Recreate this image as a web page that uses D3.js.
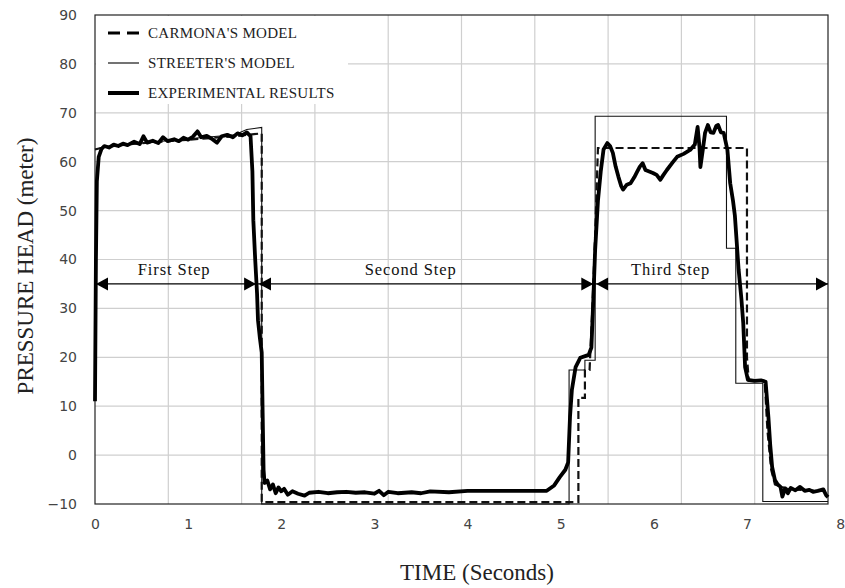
<!DOCTYPE html>
<html><head><meta charset="utf-8">
<script src="https://cdn.jsdelivr.net/npm/d3@7"></script>
<style>body{margin:0;background:#fff}svg{display:block}</style>
</head><body>
<svg id="c" width="845" height="588"></svg>
<script>
// ---------- data ----------
const xTickLabels = [0,1,2,3,4,5,6,7,8];
const yTickLabels = [-10,0,10,20,30,40,50,60,70,80,90];
const timeMax = 7.87;
const seriesNames = ["CARMONA'S MODEL","STREETER'S MODEL","EXPERIMENTAL RESULTS"];

const carmona = [[0,62.5],[0.1,63.0],[0.5,63.8],[1.0,64.5],[1.5,65.2],[1.79,65.8],[1.79,-9.6],[5.19,-9.6],[5.19,11.7],[5.26,11.7],[5.26,17.4],[5.31,17.4],[5.34,30],[5.37,45],[5.40,62.8],[7.0,62.8],[7.0,20],[7.02,15.2],[7.19,15.2],[7.22,5],[7.26,-3],[7.30,-6],[7.45,-7],[7.87,-7.4]];

const streeter = [[0,62.5],[0.1,63.0],[0.5,63.8],[1.0,64.7],[1.5,65.5],[1.63,66.6],[1.79,67.0],[1.79,-10],[5.09,-10],[5.09,17.4],[5.26,17.4],[5.26,19.4],[5.37,19.4],[5.37,69.3],[6.78,69.3],[6.78,42.3],[6.88,42.3],[6.88,14.7],[7.17,14.7],[7.17,-9.5],[7.87,-9.5]];

const experimental = [[0,11],[0.01,40],[0.02,56],[0.04,61],[0.07,62.6],[0.1,63.2],[0.15,62.9],[0.2,63.5],[0.25,63.2],[0.3,63.7],[0.35,63.4],[0.42,64.1],[0.48,63.6],[0.52,65.2],[0.56,63.9],[0.62,64.3],[0.68,63.8],[0.73,65.0],[0.78,64.2],[0.85,64.6],[0.9,64.2],[0.95,64.9],[1.0,64.5],[1.05,65.1],[1.1,66.2],[1.14,65.0],[1.2,65.3],[1.26,64.6],[1.31,63.9],[1.36,65.2],[1.42,65.5],[1.48,65.0],[1.53,65.8],[1.58,65.4],[1.63,66.0],[1.67,65.2],[1.69,58],[1.70,48],[1.72,40],[1.74,33],[1.75,27.6],[1.77,24],[1.79,21],[1.80,8.6],[1.81,-3],[1.82,-5.7],
[1.85,-5.2],[1.88,-7.0],[1.91,-6.0],[1.94,-7.8],[1.97,-6.6],[2.0,-7.4],[2.03,-6.9],[2.07,-8.1],[2.12,-7.4],[2.18,-7.9],[2.25,-8.3],[2.3,-7.7],[2.4,-7.5],[2.5,-7.8],[2.6,-7.6],[2.7,-7.5],[2.8,-7.7],[2.9,-7.6],[3.0,-7.9],[3.05,-7.3],[3.1,-8.2],[3.15,-7.5],[3.25,-7.8],[3.4,-7.6],[3.5,-7.8],[3.6,-7.4],[3.8,-7.6],[4.0,-7.3],[4.3,-7.3],[4.6,-7.3],[4.85,-7.3],[4.93,-6.2],[4.99,-4.5],[5.05,-3],[5.08,-1.5],[5.10,7.8],[5.12,13.3],[5.16,18],[5.21,19.9],[5.27,20.3],[5.30,20.5],[5.33,22],[5.35,31.7],[5.37,42],[5.40,52],[5.43,58],[5.46,62.5],[5.50,63.8],[5.53,63.2],[5.56,61.8],[5.59,59],[5.62,56.9],[5.65,55],[5.67,54.3],[5.71,55.3],[5.75,55.6],[5.79,56.8],[5.82,57.9],[5.85,59],[5.88,59.7],[5.91,58.3],[5.95,58.0],[5.99,57.7],[6.03,57.3],[6.07,56.3],[6.1,57.2],[6.14,58.3],[6.2,59.8],[6.25,61],[6.32,61.6],[6.39,62.4],[6.44,63.5],[6.47,67.1],[6.49,63],[6.50,58.9],[6.53,63],[6.55,65.9],[6.58,67.5],[6.61,66],[6.64,65.9],[6.67,67.3],[6.69,67.5],[6.72,66],[6.75,65.9],[6.79,62.4],[6.82,55.6],[6.85,52],[6.87,49],[6.91,38],[6.94,32],[6.96,27],[6.98,18],[7.01,15.4],[7.08,15.2],[7.15,15.3],[7.2,15],[7.23,7.8],[7.25,2],[7.27,-2.4],[7.30,-5.1],[7.33,-6.0],[7.36,-6.5],[7.38,-8.5],[7.41,-6.8],[7.44,-7.8],[7.47,-6.7],[7.52,-7.2],[7.57,-6.5],[7.62,-7.3],[7.67,-7.1],[7.71,-7.5],[7.76,-7.3],[7.82,-7.0],[7.85,-8.2],[7.87,-8.6]];

const stepNames = ["First Step","Second Step","Third Step"];
const stepStart = [0, 1.75, 5.37];
const stepEnd = [1.73, 5.35, 7.87];
const stepLabelT = [0.85, 3.39, 6.18];
const arrowLevel = 35;

// ---------- layout ----------
const svg = d3.select("#c");
const L = 95, R = 828, T = 15, B = 504;
const x = d3.scaleLinear().domain([0, timeMax]).range([L, R]);
const y = d3.scaleLinear().domain([-10, 90]).range([B, T]);

const grid = svg.append("g");
d3.range(1, 10).forEach(i => {
  const gx = x(timeMax * i / 10);
  grid.append("line").attr("x1", gx).attr("x2", gx).attr("y1", T).attr("y2", B)
    .attr("stroke", "#cfcfcf").attr("stroke-width", 1.2);
});
yTickLabels.slice(1, -1).forEach(v => {
  grid.append("line").attr("x1", L).attr("x2", R).attr("y1", y(v)).attr("y2", y(v))
    .attr("stroke", "#cfcfcf").attr("stroke-width", 1.2);
});

// legend background
svg.append("rect").attr("x", L + 1).attr("y", T + 1).attr("width", 252).attr("height", 88).attr("fill", "#fff");

// plot frame
svg.append("rect").attr("x", L).attr("y", T).attr("width", R - L).attr("height", B - T)
  .attr("fill", "none").attr("stroke", "#222").attr("stroke-width", 1.2);

const yAxis = d3.axisLeft(y).tickValues(yTickLabels).tickSize(0).tickPadding(18)
  .tickFormat(d => d < 0 ? "\u2212" + Math.abs(d) : d);
const gy = svg.append("g").attr("transform", `translate(${L},0)`).call(yAxis);
gy.select(".domain").remove();
gy.selectAll("text").attr("font-family", "DejaVu Sans, sans-serif").attr("font-size", 14).attr("fill", "#444");

const xAxis = d3.axisBottom(x).tickValues(xTickLabels).tickSize(0).tickPadding(15).tickFormat(d => d);
const gx = svg.append("g").attr("transform", `translate(0,${B})`).call(xAxis);
gx.select(".domain").remove();
gx.selectAll("text").attr("font-family", "DejaVu Sans, sans-serif").attr("font-size", 14).attr("fill", "#444");

// series
const line = d3.line().x(d => x(d[0])).y(d => y(d[1]));
svg.append("path").datum(streeter).attr("d", line).attr("fill", "none")
  .attr("stroke", "#111").attr("stroke-width", 1.1);
svg.append("path").datum(carmona).attr("d", line).attr("fill", "none")
  .attr("stroke", "#111").attr("stroke-width", 2.2).attr("stroke-dasharray", "8,4");
svg.append("path").datum(experimental).attr("d", line).attr("fill", "none")
  .attr("stroke", "#000").attr("stroke-width", 3.8).attr("stroke-linejoin", "round");

// step arrows
const ay = y(arrowLevel);
function head(tipX, dir) {
  const len = 12, hw = 6.5;
  svg.append("path")
    .attr("d", `M${tipX},${ay} L${tipX - dir * len},${ay - hw} L${tipX - dir * len},${ay + hw} Z`)
    .attr("fill", "#000");
}
stepNames.forEach((name, i) => {
  const x0 = x(stepStart[i]), x1 = x(stepEnd[i]);
  svg.append("line").attr("x1", x0).attr("x2", x1).attr("y1", ay).attr("y2", ay)
    .attr("stroke", "#000").attr("stroke-width", 1.3);
  head(x0 + 1, -1);
  head(x1, 1);
  svg.append("text").attr("x", x(stepLabelT[i])).attr("y", ay - 9)
    .attr("text-anchor", "middle").attr("font-family", "Liberation Serif, serif")
    .attr("font-size", 16.5).attr("fill", "#111").attr("letter-spacing", 0.9).text(name);
});

// legend
const legY = [33, 63, 93];
const lg = svg.append("g");
lg.append("line").attr("x1", 108).attr("x2", 139).attr("y1", legY[0]).attr("y2", legY[0])
  .attr("stroke", "#000").attr("stroke-width", 3).attr("stroke-dasharray", "12,7");
lg.append("line").attr("x1", 108).attr("x2", 139).attr("y1", legY[1]).attr("y2", legY[1])
  .attr("stroke", "#000").attr("stroke-width", 1.1);
lg.append("line").attr("x1", 108).attr("x2", 139).attr("y1", legY[2]).attr("y2", legY[2])
  .attr("stroke", "#000").attr("stroke-width", 4);
seriesNames.forEach((n, i) => {
  lg.append("text").attr("x", 148).attr("y", legY[i] + 5).attr("font-family", "Liberation Serif, serif")
    .attr("font-size", 15).attr("fill", "#222").attr("letter-spacing", 0.3).text(n);
});

// axis titles
svg.append("text").attr("x", 477).attr("y", 580).attr("text-anchor", "middle")
  .attr("font-family", "Liberation Serif, serif").attr("font-size", 23).attr("fill", "#222")
  .text("TIME (Seconds)");
svg.append("text").attr("transform", "translate(33,266) rotate(-90)").attr("text-anchor", "middle")
  .attr("font-family", "Liberation Serif, serif").attr("font-size", 23).attr("fill", "#222")
  .text("PRESSURE HEAD (meter)");
</script>
</body></html>
